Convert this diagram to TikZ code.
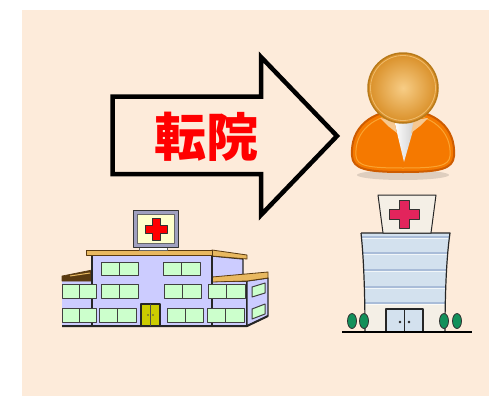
\documentclass[tikz,border=0pt]{standalone}
\usepackage{fontspec}
\newfontfamily\jpfont{Noto Sans CJK JP}
\usepackage{tikz}
\usetikzlibrary{positioning,shadings}

\definecolor{paper}{HTML}{FDEBDA}
\definecolor{bodyOrange}{HTML}{F57900}
\definecolor{bodyDark}{HTML}{CE5C00}
\definecolor{bodyLight}{HTML}{FCAF3E}
\definecolor{headLight}{HTML}{F7CD86}
\definecolor{headOrange}{HTML}{D98E26}
\definecolor{headDark}{HTML}{B87A1A}
\definecolor{collarTan}{HTML}{F6C890}
\definecolor{winGreen}{HTML}{CCFFCC}
\definecolor{lavender}{HTML}{CCCCFF}
\definecolor{roofTan}{HTML}{E8B860}
\definecolor{roofBrown}{HTML}{5A3A10}
\definecolor{signFrame}{HTML}{A0A0C0}
\definecolor{signCream}{HTML}{FFFFCC}
\definecolor{doorYellow}{HTML}{CCCC00}
\definecolor{crossPink}{HTML}{E2245C}
\definecolor{towerBlue}{HTML}{D3E1EE}
\definecolor{towerCream}{HTML}{F4EFE6}
\definecolor{bandBlue}{HTML}{A9BCD8}
\definecolor{treeGreen}{HTML}{13905A}

\begin{document}
\begin{tikzpicture}[
    x=1pt, y=-1pt,
    line join=round,
    wall/.style={
		fill=lavender,
		draw=black!85,
		line width=1.2pt
	},
    window/.style={
		fill=winGreen,
		draw=black!75,
		line width=1pt
	},
    roof/.style={
		fill=roofTan,
		draw=roofBrown,
		line width=0.8pt
	},
    tree/.style={
		fill=treeGreen,
		draw=black!80,
		line width=0.8pt
	},
    label/.style={
		font=\jpfont\bfseries\fontsize{52}{52}\selectfont,
		text=red,
		inner sep=0pt
	}
  ]
  % canvas
  \fill[white] (0,0) rectangle (489,396);
  \fill[paper] (22,10) rectangle (489,396);

  % the big arrow with its label
  \draw[line width=4.5pt, line join=miter, fill=paper]
    (112.5,96.5) -- (261,96.5) -- (261,57) -- (337,136) -- (261,215)
    -- (261,174) -- (112.5,174) -- cycle;
  \node [label] (transfer) at (206.5,136.5) {転院};

  % person: shadow, body, collar, head
  \fill[black, opacity=0.12] (403,175) ellipse (46 and 5);
  \draw[fill=bodyOrange, draw=bodyDark, line width=2pt]
    (352,156) .. controls (350,127) and (372,110) .. (403,110)
    .. controls (434,110) and (456,127) .. (454,156)
    .. controls (453,169) and (440,172) .. (403,172)
    .. controls (366,172) and (353,169) .. (352,156) -- cycle;
  \draw[draw=bodyLight, line width=1pt, opacity=0.8]
    (356,156) .. controls (354,131) and (375,114) .. (403,114)
    .. controls (431,114) and (452,131) .. (450,156)
    .. controls (449,166) and (438,168) .. (403,168)
    .. controls (368,168) and (357,166) .. (356,156) -- cycle;
  \shade[left color=white, right color=black!20]
    (394,120) -- (416,120) -- (404,162) -- cycle;
  \fill[collarTan] (380,118) -- (394,120) -- (397,133) -- (388,126) -- cycle;
  \fill[collarTan] (428,118) -- (414,120) -- (411,133) -- (420,126) -- cycle;
  \shade[inner color=headLight, outer color=headOrange] (403,88) circle (35);
  \draw[headDark, line width=1.5pt] (403,88) circle (35);
  \draw[headLight, line width=0.8pt, opacity=0.7] (403,88) circle (32.5);

  % left hospital: lower wings first
  \draw[wall] (62,280) -- (92,280) -- (92,326) -- (62,326);
  \draw[fill=roofBrown, draw=roofBrown, line width=0.6pt]
    (62,276) -- (92,270) -- (92,281) -- (62,281) -- cycle;
  \draw[roofTan, line width=1pt] (70,276) -- (90,273);
  \draw[wall] (212,256) -- (243,259) -- (243,282) -- (212,282) -- cycle;
  \draw[roof] (212,250) -- (247,255) -- (247,259) -- (212,256) -- cycle;
  \draw[wall] (212,281) -- (247,281) -- (247,326) -- (212,326) -- cycle;
  \draw[wall] (247,281) -- (268,278) -- (268,316) -- (247,326) -- cycle;
  \draw[roof] (212,277) -- (268,272) -- (268,278) -- (247,281) -- (212,282) -- cycle;
  \draw[wall] (92,255) rectangle (212,326);
  \draw[roof] (86,250) rectangle (212,255);
  \draw[black!85, line width=2pt] (62,326) -- (247,326) -- (268,316);

  % left hospital: windows
  \foreach \xa/\xb/\ya/\yb in {101/138/262/275, 163/200/262/275,
      62/96/284/298, 101/138/284/298, 164/201/284/298, 208/245/284/298,
      62/96/308/322, 99/136/308/322, 167/203/308/322, 207/244/308/322}
  {
    \draw[window] (\xa,\ya) rectangle (\xb,\yb);
    \draw[window] ({(\xa+\xb)/2},\ya) -- ({(\xa+\xb)/2},\yb);
  }
  \draw[window] (252,287) -- (265,283) -- (265,293) -- (252,297) -- cycle;
  \draw[window] (252,309) -- (265,304) -- (265,314) -- (252,319) -- cycle;

  % left hospital: door and sign
  \draw[fill=doorYellow, draw=black!85, line width=1.2pt] (141,304) rectangle (160,326);
  \draw[black!70, line width=0.8pt] (150.5,304) -- (150.5,326);
  \fill[black!70] (148,315) circle (0.9) (153,315) circle (0.9);
  \draw[fill=white, draw=black!60, line width=0.8pt] (139,247) rectangle (167,250);
  \draw[fill=signFrame, draw=black!80, line width=1pt] (133,210) rectangle (178,247);
  \draw[fill=signCream, draw=black!60, line width=0.8pt] (137,214) rectangle (174,243);
  \draw[fill=red, draw=black!80, line width=0.8pt]
    (152,218) -- (160,218) -- (160,225) -- (167,225) -- (167,233) -- (160,233)
    -- (160,240) -- (152,240) -- (152,233) -- (145,233) -- (145,225) -- (152,225) -- cycle;

  % right hospital: tower
  \begin{scope}
    \clip (361,233) -- (450,233) .. controls (446,260) and (445,300) .. (445,332)
      -- (365,332) .. controls (365,300) and (364,260) .. (361,233) -- cycle;
    \fill[towerCream] (355,230) rectangle (455,335);
    \fill[towerBlue] (355,233) rectangle (455,303);
    \foreach \yy in {237,253,270,287,303}
    {
      \draw[bandBlue, line width=1.2pt] (355,\yy) -- (455,\yy);
      \draw[white, line width=0.8pt, opacity=0.7] (355,\yy+1.8) -- (455,\yy+1.8);
    }
  \end{scope}
  \draw[black!85, line width=1.2pt]
    (361,233) -- (450,233) .. controls (446,260) and (445,300) .. (445,332)
    (365,332) .. controls (365,300) and (364,260) .. (361,233);
  \draw[fill=towerBlue, draw=black!85, line width=1.2pt] (386,309) rectangle (423,332);
  \draw[black!85, line width=1pt] (404.5,309) -- (404.5,332);
  \fill[black!85] (400,322) circle (1.4) (409,322) circle (1.4);

  % right hospital: sign on top
  \draw[fill=towerCream, draw=black!85, line width=1pt]
    (378,195) -- (436,195) -- (431,233) -- (383,233) -- cycle;
  \draw[fill=crossPink, draw=black!80, line width=1pt]
    (399,200) -- (409,200) -- (409,209) -- (419,209) -- (419,219) -- (409,219)
    -- (409,228) -- (399,228) -- (399,219) -- (389,219) -- (389,209) -- (399,209) -- cycle;

  % trees and ground
  \foreach \xx in {352,364,444,457}
    \draw[tree] (\xx,321) ellipse (4.5 and 7.5);
  \draw[black, line width=1.5pt] (342,332) -- (472,332);
\end{tikzpicture}
\end{document}
